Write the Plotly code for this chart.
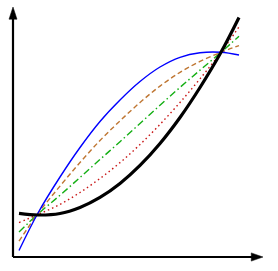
import plotly.graph_objects as go

# sample positions along z
z = [0.24, 1.00, 1.88, 2.68, 3.48, 4.28, 5.08, 5.88, 6.68, 7.48, 8.32, 9.04]

t_black  = [1.755, 1.687, 1.747, 1.988, 2.390, 2.952, 3.675, 4.558, 5.602, 6.807, 8.221, 9.618]
t_red    = [1.382, 1.707, 2.113, 2.591, 3.153, 3.790, 4.518, 5.326, 6.207, 7.155, 8.221, 9.242]
t_green  = [1.008, 1.727, 2.480, 3.193, 3.916, 4.629, 5.362, 6.095, 6.811, 7.504, 8.221, 8.865]
t_orange = [0.635, 1.747, 2.847, 3.796, 4.679, 5.467, 6.205, 6.863, 7.416, 7.853, 8.221, 8.489]
t_blue   = [0.261, 1.767, 3.213, 4.398, 5.442, 6.305, 7.048, 7.631, 8.020, 8.201, 8.221, 8.112]

axis_labels = ["z", "t"]

fig = go.Figure()

styles = [
    (t_red,    "rgb(200,20,20)",  1.4, "1.5px,3px"),
    (t_green,  "rgb(20,175,20)",  1.4, "7px,3px,1.5px,3px"),
    (t_orange, "rgb(191,118,50)", 1.4, "5px,3px"),
    (t_blue,   "rgb(0,0,255)",    1.4, "solid"),
    (t_black,  "black",           3.2, "solid"),
]
for ys, col, w, d in styles:
    fig.add_trace(go.Scatter(x=z, y=ys, mode="lines", line=dict(color=col, width=w, dash=d, shape="spline"),
                             hoverinfo="skip", showlegend=False))

# axes with arrowheads
fig.add_shape(type="line", x0=0, y0=0, x1=0, y1=9.6, line=dict(color="black", width=2.2), layer="above")
fig.add_shape(type="line", x0=0, y0=0, x1=9.6, y1=0, line=dict(color="black", width=2.2), layer="above")
fig.add_shape(type="path", path="M -0.16 9.55 L 0 10.04 L 0.16 9.55 Z", fillcolor="black",
              line=dict(color="black", width=0.5), layer="above")
fig.add_shape(type="path", path="M 9.53 0.165 L 10.0 0 L 9.53 -0.165 Z", fillcolor="black",
              line=dict(color="black", width=0.5), layer="above")

fig.add_annotation(x=9.92, y=-0.38, text="<i>" + axis_labels[0] + "</i>", showarrow=False,
                   font=dict(family="Liberation Serif", size=12, color="#444"))
fig.add_annotation(x=-0.36, y=9.86, text="<i>" + axis_labels[1] + "</i>", showarrow=False,
                   font=dict(family="Liberation Serif", size=12, color="black"))

fig.update_layout(
    width=278, height=271,
    margin=dict(l=5, r=5, t=3, b=5),
    paper_bgcolor="white", plot_bgcolor="white",
    xaxis=dict(range=[-0.32, 10.4], visible=False, fixedrange=True),
    yaxis=dict(range=[-0.3614, 10.2008], visible=False, fixedrange=True),
)

fig.write_html("out.html", config={"displayModeBar": False},
               post_script="document.body.style.margin='0';document.body.style.overflow='hidden';")
